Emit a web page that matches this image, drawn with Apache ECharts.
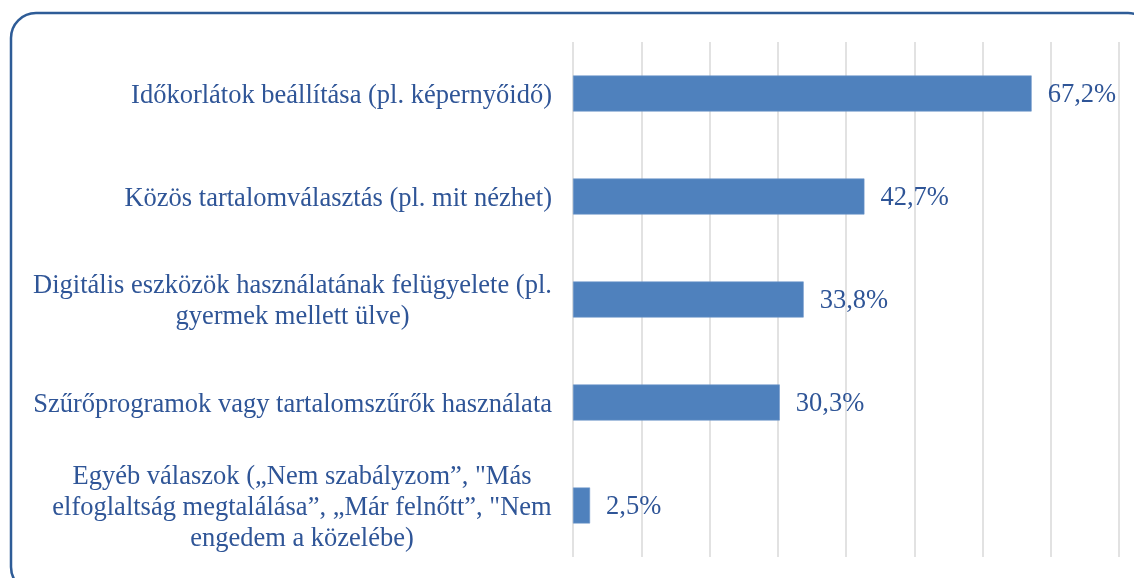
<!DOCTYPE html>
<html>
<head>
<meta charset="utf-8">
<script src="https://cdn.jsdelivr.net/npm/echarts@6/dist/echarts.min.js"></script>
<style>
html,body{margin:0;padding:0;background:#fff;}
#c{width:1134px;height:578px;}
</style>
</head>
<body>
<div id="c"></div>
<script>
const categories = [
  "Időkorlátok beállítása (pl. képernyőidő)",
  "Közös tartalomválasztás (pl. mit nézhet)",
  "Digitális eszközök használatának felügyelete (pl.\ngyermek mellett ülve)",
  "Szűrőprogramok vagy tartalomszűrők használata",
  "Egyéb válaszok („Nem szabályzom”, \"Más\nelfoglaltság megtalálása”, „Már felnőtt”, \"Nem\nengedem a közelébe)"
];
const values = [67.2, 42.7, 33.8, 30.3, 2.5];
const xTicks = [0, 10, 20, 30, 40, 50, 60, 70, 80];

const textColor = '#2F5597';
const fontFamily = '"Liberation Serif", "Times New Roman", serif';
const fontSize = 26.5;
const lineH = 31;

const chart = echarts.init(document.getElementById('c'));

// measure the widest line of each multi-line label so its lines can be centred
const cv = document.createElement('canvas').getContext('2d');
cv.font = fontSize + 'px ' + fontFamily;
const rich = {};
categories.forEach((c, i) => {
  const lines = c.split('\n');
  if (lines.length > 1) {
    const w = Math.ceil(Math.max(...lines.map(l => cv.measureText(l).width)));
    rich['w' + i] = {width: w, align: 'center', color: textColor, fontFamily: fontFamily, fontSize: fontSize, lineHeight: lineH};
  }
});

chart.setOption({
  animation: false,
  backgroundColor: '#ffffff',
  grid: {left: 573, right: 15, top: 42, bottom: 21, containLabel: false},
  xAxis: {
    type: 'value',
    min: xTicks[0],
    max: xTicks[xTicks.length - 1],
    interval: xTicks[1] - xTicks[0],
    axisLine: {show: false},
    axisTick: {show: false},
    axisLabel: {show: false},
    splitLine: {show: true, lineStyle: {color: '#D9D9D9', width: 1.5}}
  },
  yAxis: {
    type: 'category',
    inverse: true,
    data: categories,
    axisLine: {show: false},
    axisTick: {show: false},
    axisLabel: {
      margin: 21,
      color: textColor,
      fontFamily: fontFamily,
      fontSize: fontSize,
      lineHeight: lineH,
      align: 'right',
      padding: [5, 0, 0, 0],
      formatter: function (val, idx) {
        if (rich['w' + idx]) {
          const key = 'w' + idx;
          return val.split('\n').map(l => '{' + key + '|' + l + '}').join('\n');
        }
        return val;
      },
      rich: rich
    }
  },
  series: [{
    type: 'bar',
    data: values,
    barWidth: 36,
    itemStyle: {color: '#4F81BD', borderColor: '#6E97CB', borderWidth: 0.6},
    label: {
      show: true,
      position: 'right',
      distance: 16,
      offset: [0, 2],
      color: textColor,
      fontFamily: fontFamily,
      fontSize: fontSize,
      formatter: function (p) { return p.value.toFixed(1).replace('.', ',') + '%'; }
    }
  }],
  graphic: [{
    type: 'rect',
    silent: true,
    shape: {x: 11, y: 13, width: 1142, height: 579, r: 25},
    style: {fill: 'none', stroke: '#2E5C97', lineWidth: 2.5}
  }]
});
</script>
</body>
</html>
